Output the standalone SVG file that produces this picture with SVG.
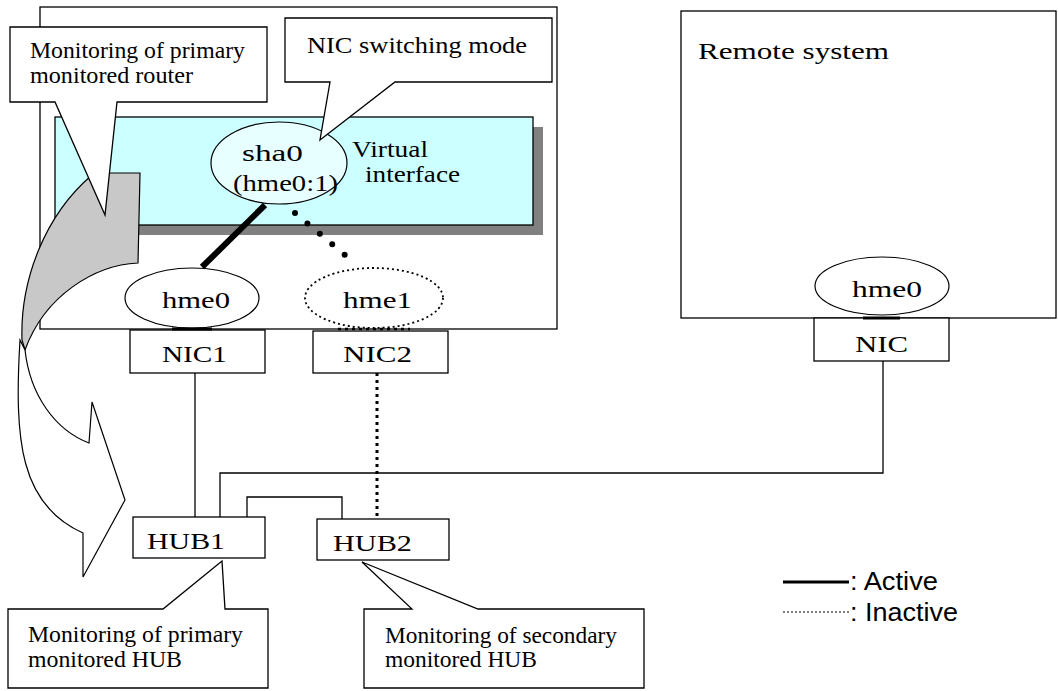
<svg xmlns="http://www.w3.org/2000/svg" width="1058" height="691" viewBox="0 0 1058 691">
<style>
.ln{fill:none;stroke:#000;stroke-width:1.3}
.box{fill:#fff;stroke:#000;stroke-width:1.3}
.t{font-family:"Liberation Serif","Times New Roman",serif;font-size:24px;fill:#000}
.s{font-family:"Liberation Sans",Arial,sans-serif;font-size:25px;fill:#000}
</style>
<rect width="1058" height="691" fill="#fff"/>

<g id="local-system">
<rect class="box" x="40" y="7" width="517" height="322"/>
</g>

<g id="virtual-interface">
<rect x="65" y="127" width="478" height="108" fill="#808080"/>
<rect x="55" y="117" width="478" height="108" fill="#ccffff" stroke="#000" stroke-width="1.3"/>
<text class="t" x="352" y="157" textLength="76" lengthAdjust="spacingAndGlyphs">Virtual</text>
<text class="t" x="365" y="182" textLength="95" lengthAdjust="spacingAndGlyphs">interface</text>
</g>

<g id="sha0">
<ellipse cx="279" cy="163" rx="68" ry="41" fill="#e8ffff" stroke="#000" stroke-width="1.2"/>
<text class="t" x="242" y="161" font-size="25" textLength="61" lengthAdjust="spacingAndGlyphs">sha0</text>
<text class="t" x="233" y="191" font-size="25" textLength="105" lengthAdjust="spacingAndGlyphs">(hme0:1)</text>
</g>

<g id="hme0">
<ellipse cx="192" cy="298" rx="67" ry="30" fill="#fff" stroke="#000" stroke-width="1.2"/>
<text class="t" x="162" y="308" textLength="68" lengthAdjust="spacingAndGlyphs">hme0</text>
</g>

<g id="hme1">
<ellipse cx="374" cy="298" rx="69" ry="30" fill="#fff" stroke="#000" stroke-width="1.8" stroke-dasharray="2 3"/>
<text class="t" x="343" y="308" textLength="69" lengthAdjust="spacingAndGlyphs">hme1</text>
</g>

<g id="NIC1">
<rect class="box" x="130" y="330" width="135" height="43"/>
<text class="t" x="162" y="362" textLength="65" lengthAdjust="spacingAndGlyphs">NIC1</text>
</g>

<g id="NIC2">
<rect class="box" x="313" y="331" width="135" height="42"/>
<text class="t" x="343" y="362" textLength="69" lengthAdjust="spacingAndGlyphs">NIC2</text>
</g>

<g id="remote-system">
<rect class="box" x="681" y="11" width="375" height="307"/>
<text class="t" x="698" y="59" font-size="27" textLength="191" lengthAdjust="spacingAndGlyphs">Remote system</text>
</g>

<g id="remote-hme0">
<ellipse cx="882" cy="286" rx="67" ry="29" fill="#fff" stroke="#000" stroke-width="1.2"/>
<text class="t" x="852" y="297" textLength="70" lengthAdjust="spacingAndGlyphs">hme0</text>
</g>

<g id="remote-NIC">
<rect class="box" x="814" y="318" width="135" height="43"/>
<text class="t" x="855" y="352" textLength="53" lengthAdjust="spacingAndGlyphs">NIC</text>
</g>

<g id="HUB1">
<rect class="box" x="133" y="517" width="132" height="41"/>
<text class="t" x="147" y="549" textLength="78" lengthAdjust="spacingAndGlyphs">HUB1</text>
</g>

<g id="HUB2">
<rect class="box" x="317" y="519" width="132" height="41"/>
<text class="t" x="333" y="551" textLength="79" lengthAdjust="spacingAndGlyphs">HUB2</text>
</g>

<g id="connectors">
<line x1="265" y1="205" x2="202" y2="267" stroke="#000" stroke-width="6"/>
<line x1="295" y1="213" x2="357" y2="265" stroke="#000" stroke-width="6" stroke-linecap="round" stroke-dasharray="0 16.2"/>
<line x1="172" y1="329" x2="212" y2="329" stroke="#000" stroke-width="3"/>
<line x1="338" y1="329" x2="410" y2="329" stroke="#000" stroke-width="2.5" stroke-dasharray="3 4"/>
<line x1="863" y1="318" x2="900" y2="318" stroke="#000" stroke-width="3"/>
<line class="ln" x1="195" y1="373" x2="195" y2="517"/>
<line x1="377" y1="373" x2="377" y2="519" stroke="#000" stroke-width="3" stroke-dasharray="3 4"/>
<path class="ln" d="M220 517 L220 473 L883 473 L883 361"/>
<path class="ln" d="M247 517 L247 497 L342 497 L342 519"/>
</g>

<g id="switch-arrow">
<path d="M92 173 L140 173 L138 263 C95 265 45 295 25 350 L22 340 C20 280 45 215 92 175 Z" fill="#c8c8c8" stroke="#000" stroke-width="1.2"/>
<path d="M20 340 C14 440 20 505 83 533 L83 577 L125 500 L92 402 L89 443 C55 430 30 395 25 350 Z" fill="#fff" stroke="#000" stroke-width="1.2"/>
</g>

<g id="callout-router">
<path class="box" d="M10 27 L267 27 L267 102 L117 102 L105 215 L55 102 L10 102 Z"/>
<text class="t" x="30" y="58" font-size="23" textLength="215" lengthAdjust="spacingAndGlyphs">Monitoring of primary</text>
<text class="t" x="30" y="83" font-size="23" textLength="163" lengthAdjust="spacingAndGlyphs">monitored router</text>
</g>

<g id="callout-mode">
<path class="box" d="M285 18 L552 18 L552 82 L395 82 L320 140 L330 82 L285 82 Z"/>
<text class="t" x="307" y="53" textLength="220" lengthAdjust="spacingAndGlyphs">NIC switching mode</text>
</g>

<g id="callout-hub1">
<path class="box" d="M8 609 L163 609 L222 561 L225 609 L268 609 L268 688 L8 688 Z"/>
<text class="t" x="28" y="642" font-size="23" textLength="215" lengthAdjust="spacingAndGlyphs">Monitoring of primary</text>
<text class="t" x="28" y="667" font-size="23" textLength="154" lengthAdjust="spacingAndGlyphs">monitored HUB</text>
</g>

<g id="callout-hub2">
<path class="box" d="M364 609 L412 609 L362 562 L478 609 L644 609 L644 688 L364 688 Z"/>
<text class="t" x="385" y="643" font-size="23" textLength="232" lengthAdjust="spacingAndGlyphs">Monitoring of secondary</text>
<text class="t" x="385" y="667" font-size="23" textLength="152" lengthAdjust="spacingAndGlyphs">monitored HUB</text>
</g>

<g id="legend">
<line x1="783" y1="582" x2="849" y2="582" stroke="#000" stroke-width="3"/>
<text class="s" x="850" y="590" textLength="88" lengthAdjust="spacingAndGlyphs">: Active</text>
<line x1="783" y1="612" x2="849" y2="612" stroke="#000" stroke-width="1" stroke-dasharray="2 2"/>
<text class="s" x="850" y="621" textLength="108" lengthAdjust="spacingAndGlyphs">: Inactive</text>
</g>
</svg>
